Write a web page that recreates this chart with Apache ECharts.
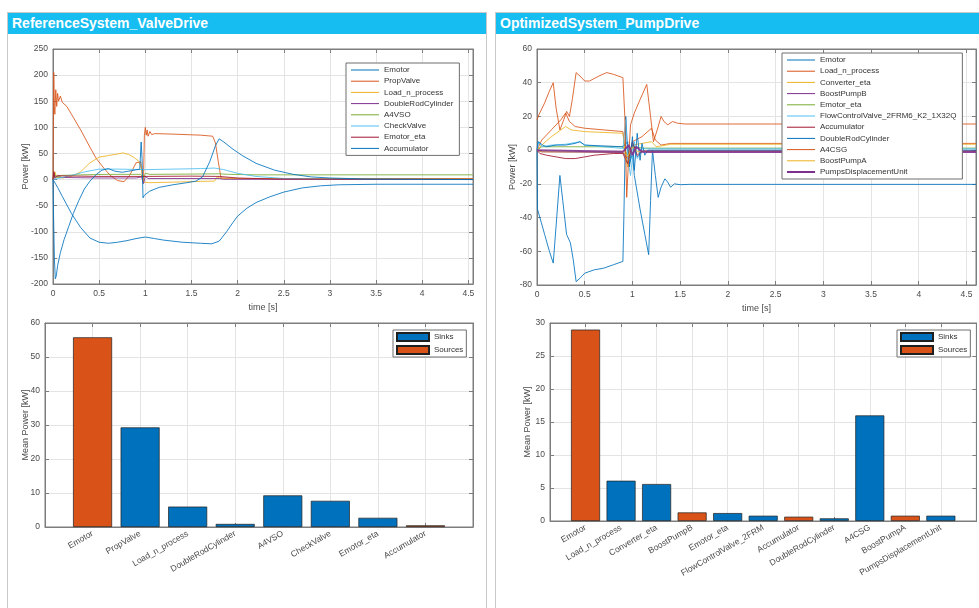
<!DOCTYPE html>
<html><head><meta charset="utf-8">
<script src="https://cdn.jsdelivr.net/npm/echarts/dist/echarts.min.js"></script>
<style>
html,body{margin:0;padding:0;background:#fff;}
#wrap{position:relative;width:979px;height:608px;overflow:hidden;}
.panel{position:absolute;top:12px;height:610px;border:1px solid #c9c9c9;box-sizing:border-box;}
.hdr{position:absolute;left:0;top:0;right:0;height:21px;background:#16bdf0;color:#fff;font:bold 14px "Liberation Sans",Arial,sans-serif;line-height:21px;padding-left:4px;}
.chart{position:absolute;top:0;height:608px;}
</style>
</head><body>
<div id="wrap">
  <div class="panel" style="left:7px;width:480px;"><div class="hdr">ReferenceSystem_ValveDrive</div></div>
  <div class="panel" style="left:495px;width:500px;"><div class="hdr">OptimizedSystem_PumpDrive</div></div>
  <div id="cL" class="chart" style="left:0;width:490px;"></div>
  <div id="cR" class="chart" style="left:490px;width:489px;"></div>
</div>
<script>
// ================= DATA: ReferenceSystem_ValveDrive (time [s], power [kW]) =================
const refEmotor = [[0,0],[0.05,-15],[0.1,-32],[0.2,-65],[0.3,-92],[0.4,-112],[0.5,-120],[0.6,-122],[0.7,-120],[0.8,-117],[0.9,-113],[1.0,-110],[1.1,-113],[1.2,-116],[1.4,-120],[1.6,-122],[1.72,-123],[1.8,-118],[1.88,-100],[1.95,-82],[2.0,-70],[2.1,-55],[2.2,-44],[2.35,-33],[2.5,-24],[2.7,-16],[2.9,-12],[3.1,-10],[3.5,-9],[4.55,-9]];
const refPropValve = [[0,0],[0.008,205],[0.015,140],[0.02,125],[0.03,172],[0.04,140],[0.05,165],[0.06,150],[0.08,160],[0.1,148],[0.15,140],[0.2,125],[0.3,95],[0.4,62],[0.47,40],[0.55,22],[0.62,8],[0.7,-2],[0.77,-4],[0.83,8],[0.9,32],[0.95,34],[0.97,5],[0.98,-5],[0.99,85],[1.0,100],[1.01,85],[1.02,95],[1.03,83],[1.05,92],[1.07,86],[1.1,88],[1.3,87],[1.6,85],[1.73,83],[1.76,70],[1.79,35],[1.82,3],[2.0,2],[4.55,2]];
const refLoad = [[0,0],[0.02,15],[0.04,5],[0.1,3],[0.2,6],[0.3,15],[0.4,32],[0.5,43],[0.6,46],[0.7,49],[0.76,51],[0.82,48],[0.88,42],[0.93,35],[0.96,20],[0.98,-5],[1.0,-8],[1.05,-6],[1.3,-5],[1.6,-3.5],[1.75,-3],[1.78,5],[1.82,2],[2.0,2],[4.55,2]];
const refDoubleRod = [[0,0],[0.01,12],[0.02,2],[0.04,6],[0.1,4],[0.5,3],[0.9,3],[0.96,5],[0.98,-8],[1.0,6],[1.03,2],[1.8,2],[1.85,0.5],[4.55,0.5]];
const refA4VSO = [[0,0],[0.02,10],[0.04,4],[0.1,8],[0.3,9],[0.6,10],[0.95,10],[0.98,3],[1.0,12],[1.05,10],[1.5,10.5],[1.8,11],[1.9,10],[2.2,9],[4.55,9]];
const refCheckValve = [[0,0],[0.05,2],[0.2,8],[0.35,15],[0.5,20],[0.7,20],[1.0,19],[1.3,20],[1.6,21],[1.75,22],[1.85,19],[2.0,12],[2.2,6],[2.5,2],[3.0,0.5],[4.55,0]];
const refEmotorEta = [[0,0],[0.01,15],[0.02,4],[0.05,8],[0.1,7],[0.5,6],[1.0,6],[1.5,6.5],[1.8,6],[2.0,3],[2.4,1],[3.0,0.5],[4.55,0.5]];
const refAccumulator = [[0,0],[0.005,-60],[0.015,-150],[0.025,-190],[0.035,-185],[0.05,-165],[0.08,-140],[0.12,-115],[0.17,-90],[0.22,-65],[0.28,-40],[0.34,-18],[0.4,-3],[0.47,10],[0.53,18],[0.6,21],[0.67,16],[0.75,14],[0.85,17],[0.94,20],[0.955,72],[0.965,40],[0.975,-35],[0.99,-30],[1.05,-22],[1.15,-15],[1.3,-10],[1.45,-6],[1.55,-3],[1.62,5],[1.7,35],[1.76,65],[1.8,78],[1.85,72],[1.95,58],[2.05,46],[2.2,31],[2.4,18],[2.6,10],[2.8,5],[3.0,3],[3.4,1],[4.55,0]];
const refLineNames = ['Emotor','PropValve','Load_n_process','DoubleRodCylinder','A4VSO','CheckValve','Emotor_eta','Accumulator'];
const refLineSeries = [refEmotor, refPropValve, refLoad, refDoubleRod, refA4VSO, refCheckValve, refEmotorEta, refAccumulator];

const refBarCats = ['Emotor','PropValve','Load_n_process','DoubleRodCylinder','A4VSO','CheckValve','Emotor_eta','Accumulator'];
const refBarValues = [55.8, 29.3, 6.0, 0.9, 9.3, 7.7, 2.7, 0.5];
const refBarTypes = ['Sources','Sinks','Sinks','Sinks','Sinks','Sinks','Sinks','Sources'];

// ================= DATA: OptimizedSystem_PumpDrive =================
const optEmotor = [[0,0],[0.005,-35],[0.03,-40],[0.08,-50],[0.13,-60],[0.17,-67],[0.2,-45],[0.24,-15],[0.27,-30],[0.31,-50],[0.35,-55],[0.38,-65],[0.41,-78],[0.45,-76],[0.5,-73],[0.6,-71],[0.7,-70],[0.8,-68],[0.9,-66],[0.91,-40],[0.93,20],[0.95,0],[0.97,-8],[1.0,-2],[1.02,-15],[1.08,-35],[1.13,-50],[1.17,-62],[1.19,-30],[1.21,0],[1.24,-15],[1.27,-28],[1.3,-22],[1.34,-17],[1.37,-19],[1.4,-22],[1.44,-20],[1.5,-20.5],[1.6,-20.3],[4.6,-20.3]];
const optLoad = [[0,0],[0.05,6],[0.15,12],[0.25,18],[0.3,22],[0.34,17],[0.4,14],[0.5,13],[0.7,12],[0.9,11],[0.92,2],[0.95,-8],[1.0,5],[1.1,8],[1.2,13],[1.24,6],[1.3,3],[1.4,4],[1.5,4],[4.6,4]];
const optConverterEta = [[0,0],[0.05,3],[0.15,8],[0.25,12],[0.3,14],[0.36,12],[0.5,11],[0.9,10],[0.92,0],[0.95,-10],[1.0,3],[1.2,5],[1.25,2],[1.4,3.5],[4.6,3.5]];
const optBoostPumpB = [[0,0],[0.05,-1],[0.9,-1.5],[0.95,-5],[1.0,3],[1.05,-4],[1.1,-1],[1.2,-1.3],[4.6,-1.3]];
const optEmotorEta = [[0,0],[0.05,2],[0.3,2],[0.9,2],[0.95,-3],[1.0,2],[1.1,1.2],[4.6,1.2]];
const optFlowControl = [[0,0],[0.02,5],[0.05,2],[0.15,3],[0.3,3.5],[0.45,5],[0.5,3],[0.9,1],[0.93,18],[0.95,-5],[0.98,-15],[1.02,5],[1.05,-5],[1.1,0.8],[4.6,0.8]];
const optAccumulator = [[0,0],[0.03,-2],[0.1,-3],[0.2,-4],[0.3,-5],[0.4,-5],[0.5,-4],[0.6,-3],[0.8,-2],[0.9,-2],[0.95,-8],[1.0,5],[1.05,-3],[1.1,-0.5],[4.6,-0.5]];
const optDoubleRod = [[0,0],[0.01,5],[0.03,6],[0.06,3],[0.1,2],[0.2,3],[0.3,3],[0.4,4],[0.45,5],[0.5,3],[0.9,2],[0.95,5],[0.97,-10],[1.0,8],[1.02,-12],[1.05,10],[1.08,-6],[1.1,4],[1.13,-3],[1.16,0],[4.6,0]];
const optA4CSG = [[0,18],[0.02,21],[0.08,28],[0.13,35],[0.17,40],[0.2,25],[0.24,12],[0.28,18],[0.31,23],[0.34,20],[0.37,30],[0.41,46],[0.45,44],[0.5,41],[0.55,41],[0.65,44],[0.73,46],[0.8,45],[0.9,43],[0.92,20],[0.94,-28],[0.96,-5],[0.98,15],[1.02,22],[1.08,30],[1.15,39],[1.19,20],[1.22,5],[1.26,12],[1.3,20],[1.33,17],[1.37,15],[1.42,17],[1.47,16],[1.55,15.5],[4.6,15.5]];
const optBoostPumpA = [[0,0],[0.05,-1],[0.9,-1],[0.95,-4],[1.0,2],[1.05,-1],[1.1,-0.8],[4.6,-0.8]];
const optPumpsDisp = [[0,0],[0.02,-1],[0.9,-1],[0.96,3],[1.0,-3],[1.04,2],[1.1,-1],[4.6,-1]];
const optLineNames = ['Emotor','Load_n_process','Converter_eta','BoostPumpB','Emotor_eta','FlowControlValve_2FRM6_K2_1X32Q','Accumulator','DoubleRodCylinder','A4CSG','BoostPumpA','PumpsDisplacementUnit'];
const optLineSeries = [optEmotor, optLoad, optConverterEta, optBoostPumpB, optEmotorEta, optFlowControl, optAccumulator, optDoubleRod, optA4CSG, optBoostPumpA, optPumpsDisp];

const optBarCats = ['Emotor','Load_n_process','Converter_eta','BoostPumpB','Emotor_eta','FlowControlValve_2FRM','Accumulator','DoubleRodCylinder','A4CSG','BoostPumpA','PumpsDisplacementUnit'];
const optBarValues = [29.0, 6.1, 5.6, 1.3, 1.2, 0.8, 0.65, 0.4, 16.0, 0.8, 0.8];
const optBarTypes = ['Sources','Sinks','Sinks','Sources','Sinks','Sinks','Sources','Sinks','Sinks','Sources','Sinks'];

// ================= STYLE / BUILD =================
const FONT = '"Liberation Sans", Arial, Helvetica, sans-serif';
const AXC = '#7d7d7d', GRC = '#e4e4e4', TXT = '#4a4a4a';
const MAT = ['#0072BD','#D95319','#EDB120','#7E2F8E','#77AC30','#4DBEEE','#A2142F'];
const BAR_COL = {Sinks:'#0072BD', Sources:'#D95319'};
const ICON_THIN = 'path://M0,0 M0,3 M0,1 L28,1 L28,2 L0,2 Z';
const ICON_THICK = 'path://M0,0 M0,3 M0,0.5 L28,0.5 L28,2.5 L0,2.5 Z';

function mainAxis(gridIndex, pos, min, max, interval, o) {
  return Object.assign({
    type:'value', gridIndex, position:pos, min, max, interval,
    axisLine:{show:true, onZero:false, lineStyle:{color:AXC, width:1}},
    axisTick:{show:true, inside:true, length:4, lineStyle:{color:AXC}},
    axisLabel:{color:TXT, fontSize:8.5, fontFamily:FONT, margin:5},
    splitLine:{show:true, lineStyle:{color:GRC, width:1}},
    nameLocation:'middle', nameMoveOverlap:false,
    nameTextStyle:{color:TXT, fontSize:9, fontFamily:FONT}
  }, o || {});
}
function mirrorAxis(gridIndex, pos, min, max, interval) {
  return {
    type:'value', gridIndex, position:pos, min, max, interval,
    axisLine:{show:true, onZero:false, lineStyle:{color:AXC, width:1}},
    axisTick:{show:true, inside:true, length:4, lineStyle:{color:AXC}},
    axisLabel:{show:false}, splitLine:{show:false}
  };
}
function stepLabel(step){ return v => (Math.abs(v/step - Math.round(v/step)) < 1e-6) ? String(+v.toFixed(2)) : ''; }

function build(cfg) {
  const isThick = i => !!(cfg.thick && cfg.thick.includes(i));
  const lineSeries = cfg.lineData.map((d, i) => ({
    type:'line', name:cfg.lineNames[i], xAxisIndex:0, yAxisIndex:0, data:d,
    symbol:'none', showSymbol:false, animation:false,
    lineStyle:{width:isThick(i) ? 2 : 1, color:MAT[i % 7], opacity:0.85},
    itemStyle:{color:MAT[i % 7]}
  }));
  const barSeries = ['Sinks','Sources'].map(kind => ({
    type:'bar', name:kind, xAxisIndex:2, yAxisIndex:2, animation:false,
    barWidth:cfg.barWidth, barGap:'-100%',
    data:cfg.barValues.map((v, i) => cfg.barTypes[i] === kind ? [i + 1, v] : null).filter(Boolean),
    itemStyle:{color:BAR_COL[kind], borderColor:'#1f1f1f', borderWidth:0.7}
  }));
  const nCat = cfg.barCats.length;
  return {
    animation:false,
    grid:[
      Object.assign({show:true, borderColor:AXC, borderWidth:1, backgroundColor:'transparent'}, cfg.g0),
      Object.assign({show:true, borderColor:AXC, borderWidth:1, backgroundColor:'transparent'}, cfg.g1)
    ],
    xAxis:[
      mainAxis(0,'bottom',0,cfg.tMax,0.5,{name:'time [s]', nameGap:19, axisLabel:{color:TXT,fontSize:8.5,fontFamily:FONT,margin:5,formatter:stepLabel(0.5)}}),
      mirrorAxis(0,'top',0,cfg.tMax,0.5),
      mainAxis(1,'bottom',0,nCat+1,1,{axisLabel:{color:TXT,fontSize:8.5,fontFamily:FONT,margin:6,rotate:30,
        formatter:v => (Number.isInteger(v) && v >= 1 && v <= nCat) ? cfg.barCats[v-1] : ''}}),
      mirrorAxis(1,'top',0,nCat+1,1)
    ],
    yAxis:[
      mainAxis(0,'left',cfg.yMin,cfg.yMax,cfg.yInt,{name:'Power [kW]', nameGap:cfg.pGap}),
      mirrorAxis(0,'right',cfg.yMin,cfg.yMax,cfg.yInt),
      mainAxis(1,'left',0,cfg.bMax,cfg.bInt,{name:'Mean Power [kW]', nameGap:cfg.mGap}),
      mirrorAxis(1,'right',0,cfg.bMax,cfg.bInt)
    ],
    legend:[
      Object.assign({data:cfg.lineNames.map((n, i) => ({name:n, icon:isThick(i) ? ICON_THICK : ICON_THIN})),
        orient:'vertical', padding:[3,6,3,5], itemGap:3.2, itemWidth:28, itemHeight:3,
        textStyle:{fontSize:8, color:'#333', fontFamily:FONT}, backgroundColor:'#fff', borderColor:'#6f6f6f', borderWidth:1,
        borderRadius:0, selectedMode:false}, cfg.leg0),
      Object.assign({data:['Sinks','Sources'], orient:'vertical', padding:[2,3,2,3], itemGap:3, itemWidth:32, itemHeight:8, icon:'rect',
        textStyle:{fontSize:8, color:'#333', fontFamily:FONT}, backgroundColor:'#fff', borderColor:'#6f6f6f', borderWidth:1,
        borderRadius:0, selectedMode:false}, cfg.leg1)
    ],
    series: lineSeries.concat(barSeries)
  };
}

const left = echarts.init(document.getElementById('cL'));
left.setOption(build({
  lineNames:refLineNames, lineData:refLineSeries,
  barCats:refBarCats, barValues:refBarValues, barTypes:refBarTypes, barWidth:39,
  tMax:4.55, yMin:-200, yMax:250, yInt:50, bMax:60, bInt:10, pGap:23, mGap:15,
  g0:{left:53, top:49, width:420, height:235},
  g1:{left:45, top:323, width:428, height:204},
  leg0:{left:346, top:63}, leg1:{left:393, top:330}
}));

const right = echarts.init(document.getElementById('cR'));
right.setOption(build({
  lineNames:optLineNames, lineData:optLineSeries, thick:[10],
  barCats:optBarCats, barValues:optBarValues, barTypes:optBarTypes, barWidth:29,
  tMax:4.6, yMin:-80, yMax:60, yInt:20, bMax:30, bInt:5, pGap:20, mGap:18,
  g0:{left:47, top:49, width:440, height:236},
  g1:{left:60, top:323, width:427, height:198},
  leg0:{left:292, top:53}, leg1:{left:407, top:330}
}));
</script>
</body></html>
